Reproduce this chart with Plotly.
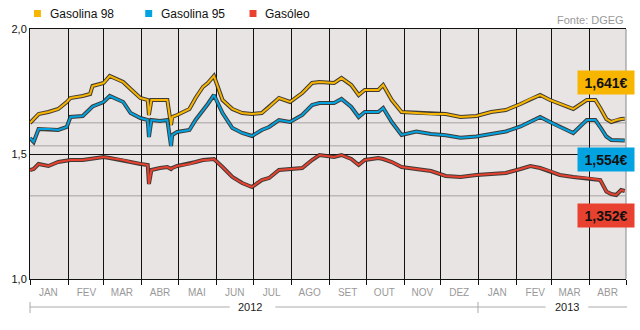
import pandas as pd
import plotly.graph_objects as go

# ---------------- data ----------------
dates = [
    "2012-01-01", "2012-01-04", "2012-01-08", "2012-01-16", "2012-01-24", "2012-01-31",
    "2012-02-03", "2012-02-13", "2012-02-19", "2012-02-21", "2012-03-01", "2012-03-06",
    "2012-03-17", "2012-03-23", "2012-03-31", "2012-04-06", "2012-04-07", "2012-04-09",
    "2012-04-16", "2012-04-22", "2012-04-25", "2012-04-26", "2012-04-30", "2012-05-10",
    "2012-05-15", "2012-05-21", "2012-05-25", "2012-05-30", "2012-06-06", "2012-06-14",
    "2012-06-22", "2012-06-30", "2012-07-08", "2012-07-14", "2012-07-22", "2012-07-31",
    "2012-08-10", "2012-08-18", "2012-08-24", "2012-09-05", "2012-09-11", "2012-09-19",
    "2012-09-25", "2012-09-30", "2012-10-11", "2012-10-15", "2012-10-22", "2012-10-30",
    "2012-11-11", "2012-11-23", "2012-12-05", "2012-12-17", "2012-12-30", "2013-01-11",
    "2013-01-23", "2013-02-04", "2013-02-12", "2013-02-20", "2013-02-28", "2013-03-08",
    "2013-03-19", "2013-03-30", "2013-04-06", "2013-04-10", "2013-04-15", "2013-04-19",
    "2013-04-23", "2013-04-27", "2013-04-30",
]
gasolina98 = [
    1.624, 1.640, 1.660, 1.668, 1.680, 1.708,
    1.724, 1.732, 1.740, 1.772, 1.784, 1.812,
    1.788, 1.760, 1.724, 1.716, 1.656, 1.716,
    1.716, 1.716, 1.616, 1.648, 1.656, 1.680,
    1.724, 1.768, 1.784, 1.812, 1.716, 1.680,
    1.664, 1.660, 1.664, 1.688, 1.724, 1.708,
    1.744, 1.784, 1.788, 1.784, 1.804, 1.776,
    1.736, 1.756, 1.756, 1.776, 1.716, 1.668,
    1.664, 1.660, 1.660, 1.648, 1.652, 1.668,
    1.676, 1.700, 1.720, 1.736, 1.716, 1.700,
    1.680, 1.716, 1.716, 1.684, 1.640, 1.628,
    1.636, 1.640, 1.641,
]
gasolina95 = [
    1.564, 1.548, 1.600, 1.600, 1.596, 1.608,
    1.648, 1.652, 1.680, 1.690, 1.708, 1.732,
    1.708, 1.664, 1.644, 1.636, 1.568, 1.636,
    1.632, 1.636, 1.532, 1.576, 1.588, 1.596,
    1.636, 1.672, 1.700, 1.736, 1.664, 1.604,
    1.584, 1.572, 1.596, 1.608, 1.636, 1.628,
    1.656, 1.696, 1.704, 1.704, 1.720, 1.688,
    1.648, 1.668, 1.668, 1.684, 1.628, 1.576,
    1.590, 1.580, 1.575, 1.565, 1.570, 1.580,
    1.590, 1.610, 1.630, 1.648, 1.628, 1.608,
    1.584, 1.636, 1.636, 1.608, 1.570, 1.556,
    1.556, 1.556, 1.554,
]
gasoleo = [
    1.436, 1.440, 1.460, 1.452, 1.468, 1.472,
    1.476, 1.476, 1.480, 1.484, 1.488, 1.484,
    1.476, 1.468, 1.460, 1.456, 1.380, 1.436,
    1.444, 1.448, 1.440, 1.444, 1.452, 1.460,
    1.468, 1.476, 1.476, 1.480, 1.448, 1.408,
    1.384, 1.368, 1.396, 1.404, 1.436, 1.440,
    1.444, 1.476, 1.496, 1.488, 1.496, 1.480,
    1.456, 1.476, 1.484, 1.480, 1.468, 1.448,
    1.440, 1.432, 1.412, 1.408, 1.416, 1.420,
    1.424, 1.440, 1.452, 1.444, 1.432, 1.416,
    1.408, 1.404, 1.400, 1.396, 1.350, 1.340,
    1.336, 1.356, 1.352,
]
series_names = ["Gasolina 98", "Gasolina 95", "Gasóleo"]
series_colors = ["#F7B500", "#02A3E0", "#E8412F"]
last_labels = ["1,641€", "1,554€", "1,352€"]
label_levels = [1.786, 1.480, 1.256]
ref_levels = [1.625, 1.533, 1.333]
month_labels = ["JAN", "FEV", "MAR", "ABR", "MAI", "JUN", "JUL", "AGO",
                "SET", "OUT", "NOV", "DEZ", "JAN", "FEV", "MAR", "ABR"]
years = ["2012", "2013"]
y_ticks = [1.0, 1.5, 2.0]
source_text = "Fonte: DGEG"

# ---------------- layout helpers ----------------
W, H = 640, 330
L, R, T, B = 26, 14, 29, 51
PW, PH = W - L - R, H - T - B


def px(x):
    return (x - L) / PW


def py(y):
    return (T + PH - y) / PH


month_starts = pd.date_range("2012-01-01", periods=16, freq="MS")
month_mid = [d + pd.Timedelta(days=15) for d in month_starts]

fig = go.Figure()
series = [gasolina98, gasolina95, gasoleo]
for name, vals, col in zip(series_names, series, series_colors):
    fig.add_trace(go.Scatter(x=dates, y=vals, mode="lines",
                             line=dict(color="rgba(45,40,35,0.9)", width=4),
                             hoverinfo="skip", showlegend=False))
    fig.add_trace(go.Scatter(x=dates, y=vals, mode="lines",
                             line=dict(color=col, width=2), name=name,
                             showlegend=False))

shapes = []
for lv in ref_levels:
    shapes.append(dict(type="line", xref="paper", yref="y", x0=0, x1=1, y0=lv, y1=lv,
                       line=dict(color="#BDB8B8", width=1.5), layer="below"))
# right border
shapes.append(dict(type="line", xref="paper", yref="paper", x0=1, x1=1, y0=0, y1=1,
                   line=dict(color="#888888", width=1)))
# legend squares
for xs, col in zip([30, 142, 247], series_colors):
    shapes.append(dict(type="rect", xref="paper", yref="paper",
                       x0=px(xs), x1=px(xs + 7), y0=py(17), y1=py(10),
                       line=dict(width=0), fillcolor=col))
# year brackets
bc = "#AAAAAA"
for a, b in [(26, 227), (273, 477), (477, 545), (588, 627)]:
    shapes.append(dict(type="line", xref="paper", yref="paper", x0=px(a), x1=px(b),
                       y0=py(307), y1=py(307), line=dict(color=bc, width=1)))
for a in [26, 477]:
    shapes.append(dict(type="line", xref="paper", yref="paper", x0=px(a), x1=px(a),
                       y0=py(302), y1=py(313), line=dict(color=bc, width=1)))

annotations = []
for xs, name in zip([44, 156, 261], series_names):
    annotations.append(dict(xref="paper", yref="paper", x=px(xs), y=py(14),
                            xanchor="left", yanchor="middle", showarrow=False,
                            text=name, font=dict(size=12, color="#111111")))
annotations.append(dict(xref="paper", yref="paper", x=px(626), y=py(20),
                        xanchor="right", yanchor="middle", showarrow=False,
                        text=source_text, font=dict(size=11, color="#999999")))
for xc, yr in zip([247, 567], years):
    annotations.append(dict(xref="paper", yref="paper", x=px(xc), y=py(307),
                            xanchor="center", yanchor="middle", showarrow=False,
                            text=yr, font=dict(size=11, color="#222222")))
for txt, lv, col in zip(last_labels, label_levels, series_colors):
    annotations.append(dict(xref="paper", yref="y", x=px(577), y=lv,
                            xanchor="left", yanchor="middle", showarrow=False,
                            text="<b>" + txt + "</b>", bgcolor=col, width=54, height=21,
                            font=dict(size=14, color="#111111")))

fig.update_layout(
    width=W, height=H, margin=dict(l=L, r=R, t=T, b=B),
    paper_bgcolor="white", plot_bgcolor="#E8E4E4",
    font=dict(family="Arial, Liberation Sans, sans-serif"),
    separators=",.",
    showlegend=False,
    shapes=shapes, annotations=annotations,
    xaxis=dict(
        type="date", range=["2012-01-01", "2013-05-01"],
        tickmode="array", tickvals=month_mid, ticktext=month_labels,
        ticks="", showgrid=False, ticklabelstandoff=4,
        tickfont=dict(size=10, color="#999999"),
        showline=True, linecolor="#111111", linewidth=1, mirror=True,
        minor=dict(tickmode="linear", tick0="2012-01-01", dtick="M1",
                   showgrid=True, gridcolor="#111111", gridwidth=1,
                   ticks="outside", ticklen=5, tickcolor="#111111"),
        fixedrange=True,
    ),
    yaxis=dict(
        range=[1.0, 2.0], tickmode="array", tickvals=y_ticks, tickformat=".1f",
        showgrid=True, gridcolor="#111111", gridwidth=1,
        showline=True, linecolor="#111111", linewidth=1,
        ticks="", tickfont=dict(size=11, color="#111111"),
        zeroline=False, fixedrange=True,
    ),
)

fig.write_html("out.html")
